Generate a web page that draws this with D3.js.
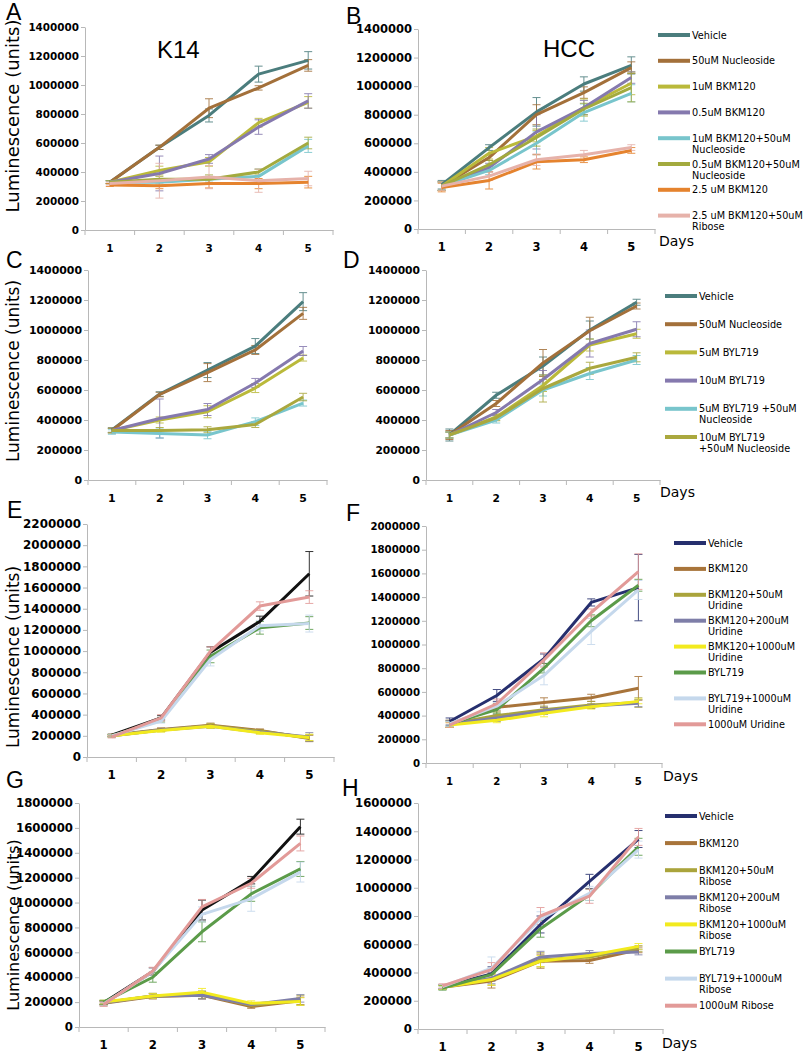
<!DOCTYPE html>
<html><head><meta charset="utf-8">
<script src="https://cdn.jsdelivr.net/npm/d3@7/dist/d3.min.js"></script>
<style>body{margin:0;background:#fff}svg{display:block}</style>
</head><body>
<svg id="chart" width="805" height="1053"></svg>
<script>
// ---------------- DATA ----------------
const days = ["1", "2", "3", "4", "5"];

const ticks1400 = [0, 200000, 400000, 600000, 800000, 1000000, 1200000, 1400000];
const ticks2200 = [0, 200000, 400000, 600000, 800000, 1000000, 1200000, 1400000, 1600000, 1800000, 2000000, 2200000];
const ticks2000 = [0, 200000, 400000, 600000, 800000, 1000000, 1200000, 1400000, 1600000, 1800000, 2000000];
const ticks1800 = [0, 200000, 400000, 600000, 800000, 1000000, 1200000, 1400000, 1600000, 1800000];
const ticks1600 = [0, 200000, 400000, 600000, 800000, 1000000, 1200000, 1400000, 1600000];

const legendBKM = [["Vehicle"], ["50uM Nucleoside"], ["1uM BKM120"], ["0.5uM BKM120"],
  ["1uM BKM120+50uM", "Nucleoside"], ["0.5uM BKM120+50uM", "Nucleoside"], ["2.5 uM BKM120"],
  ["2.5 uM BKM120+50uM", "Ribose"]];
const legendBYL = [["Vehicle"], ["50uM Nucleoside"], ["5uM BYL719"], ["10uM BYL719"],
  ["5uM BYL719 +50uM", "Nucleoside"], ["10uM BYL719", "+50uM Nucleoside"]];
const legendUridine = [["Vehicle"], ["BKM120"], ["BKM120+50uM", "Uridine"], ["BKM120+200uM", "Uridine"],
  ["BMK120+1000uM", "Uridine"], ["BYL719"], ["BYL719+1000uM", "Uridine"], ["1000uM Uridine"]];
const legendRibose = [["Vehicle"], ["BKM120"], ["BKM120+50uM", "Ribose"], ["BKM120+200uM", "Ribose"],
  ["BKM120+1000uM", "Ribose"], ["BYL719"], ["BYL719+1000uM", "Ribose"], ["1000uM Ribose"]];

// Panel A (K14, BKM120) – series in legendBKM order
const valuesA = [
  [330000, 570000, 790000, 1075000, 1170000],
  [330000, 570000, 840000, 980000, 1135000],
  [330000, 410000, 470000, 740000, 880000],
  [330000, 390000, 490000, 710000, 890000],
  [330000, 330000, 350000, 370000, 580000],
  [330000, 350000, 350000, 400000, 600000],
  [310000, 305000, 320000, 320000, 330000],
  [320000, 340000, 365000, 340000, 355000]
];
const errorsA = [
  [10000, 15000, 45000, 55000, 60000],
  [10000, 15000, 65000, 15000, 40000],
  [10000, 30000, 30000, 30000, 40000],
  [10000, 120000, 30000, 50000, 50000],
  [10000, 20000, 20000, 50000, 45000],
  [10000, 20000, 30000, 20000, 40000],
  [10000, 20000, 30000, 35000, 40000],
  [10000, 120000, 80000, 80000, 50000]
];
// Panel B (HCC, BKM120)
const valuesB = [
  [310000, 570000, 820000, 1015000, 1145000],
  [300000, 500000, 800000, 955000, 1130000],
  [300000, 530000, 650000, 850000, 1020000],
  [300000, 430000, 680000, 850000, 1060000],
  [300000, 410000, 600000, 815000, 950000],
  [300000, 450000, 640000, 840000, 990000],
  [290000, 340000, 470000, 485000, 550000],
  [300000, 370000, 485000, 520000, 570000]
];
const errorsB = [
  [30000, 20000, 100000, 50000, 60000],
  [30000, 20000, 70000, 40000, 40000],
  [30000, 40000, 40000, 60000, 80000],
  [30000, 30000, 120000, 50000, 40000],
  [30000, 30000, 80000, 60000, 60000],
  [30000, 30000, 60000, 40000, 100000],
  [30000, 60000, 50000, 20000, 20000],
  [30000, 30000, 40000, 30000, 20000]
];
// Panel C (K14, BYL719) – series in legendBYL order
const valuesC = [
  [333000, 573000, 733000, 893000, 1189000],
  [330000, 570000, 716000, 867000, 1111000],
  [330000, 400000, 455000, 613000, 813000],
  [330000, 410000, 470000, 647000, 860000],
  [320000, 310000, 300000, 389000, 513000],
  [330000, 330000, 335000, 370000, 553000]
];
const errorsC = [
  [15000, 15000, 50000, 50000, 60000],
  [15000, 15000, 60000, 30000, 40000],
  [15000, 20000, 40000, 30000, 20000],
  [15000, 130000, 40000, 30000, 30000],
  [15000, 30000, 25000, 25000, 20000],
  [15000, 20000, 20000, 20000, 25000]
];
// Panel D (HCC, BYL719)
const valuesD = [
  [300000, 565000, 760000, 1000000, 1185000],
  [300000, 510000, 780000, 995000, 1160000],
  [300000, 420000, 630000, 900000, 975000],
  [300000, 450000, 670000, 910000, 1005000],
  [300000, 400000, 600000, 710000, 800000],
  [300000, 415000, 610000, 745000, 818000]
];
const errorsD = [
  [40000, 20000, 60000, 60000, 20000],
  [30000, 20000, 90000, 90000, 20000],
  [20000, 20000, 40000, 40000, 30000],
  [20000, 20000, 60000, 90000, 50000],
  [20000, 20000, 40000, 40000, 30000],
  [20000, 20000, 90000, 40000, 30000]
];
// Panel E (K14, uridine) – series in legendUridine order
const valuesE = [
  [205000, 370000, 990000, 1280000, 1730000],
  [205000, 260000, 300000, 250000, 175000],
  [200000, 255000, 295000, 245000, 180000],
  [200000, 255000, 290000, 235000, 190000],
  [200000, 250000, 290000, 230000, 185000],
  [200000, 350000, 950000, 1220000, 1265000],
  [200000, 340000, 920000, 1240000, 1260000],
  [190000, 370000, 1000000, 1425000, 1510000]
];
const errorsE = [
  [10000, 20000, 50000, 50000, 210000],
  [10000, 15000, 20000, 15000, 30000],
  [10000, 15000, 20000, 15000, 30000],
  [10000, 15000, 20000, 15000, 40000],
  [10000, 15000, 20000, 15000, 30000],
  [10000, 20000, 60000, 60000, 60000],
  [10000, 20000, 60000, 50000, 80000],
  [10000, 30000, 40000, 40000, 60000]
];
// Panel F (HCC, uridine)
const valuesF = [
  [350000, 570000, 880000, 1355000, 1480000],
  [330000, 470000, 510000, 550000, 630000],
  [330000, 400000, 450000, 490000, 510000],
  [330000, 380000, 440000, 480000, 505000],
  [320000, 360000, 420000, 475000, 520000],
  [330000, 450000, 800000, 1200000, 1500000],
  [330000, 480000, 740000, 1110000, 1460000],
  [320000, 500000, 870000, 1270000, 1615000]
];
const errorsF = [
  [30000, 50000, 40000, 30000, 280000],
  [30000, 30000, 40000, 30000, 100000],
  [30000, 30000, 30000, 30000, 40000],
  [30000, 30000, 30000, 20000, 30000],
  [20000, 20000, 30000, 20000, 20000],
  [20000, 30000, 40000, 50000, 50000],
  [20000, 30000, 80000, 110000, 80000],
  [20000, 40000, 60000, 30000, 150000]
];
// Panel G (K14, ribose) – series in legendRibose order
const valuesG = [
  [195000, 445000, 940000, 1180000, 1610000],
  [190000, 245000, 255000, 165000, 210000],
  [195000, 250000, 260000, 175000, 215000],
  [195000, 250000, 255000, 180000, 230000],
  [200000, 250000, 280000, 190000, 205000],
  [200000, 400000, 765000, 1070000, 1270000],
  [185000, 445000, 905000, 1030000, 1245000],
  [180000, 450000, 965000, 1155000, 1475000]
];
const errorsG = [
  [15000, 30000, 80000, 30000, 60000],
  [15000, 20000, 30000, 15000, 30000],
  [15000, 20000, 30000, 15000, 40000],
  [15000, 20000, 30000, 15000, 30000],
  [15000, 20000, 30000, 20000, 30000],
  [15000, 40000, 80000, 60000, 60000],
  [15000, 30000, 60000, 100000, 80000],
  [15000, 30000, 60000, 40000, 60000]
];
// Panel H (HCC, ribose)
const valuesH = [
  [300000, 390000, 740000, 1045000, 1345000],
  [295000, 340000, 480000, 485000, 560000],
  [295000, 350000, 490000, 510000, 570000],
  [300000, 360000, 510000, 535000, 545000],
  [295000, 350000, 480000, 520000, 585000],
  [290000, 385000, 710000, 950000, 1290000],
  [300000, 430000, 780000, 960000, 1270000],
  [305000, 420000, 800000, 940000, 1360000]
];
const errorsH = [
  [15000, 50000, 60000, 50000, 60000],
  [15000, 50000, 50000, 20000, 20000],
  [15000, 40000, 50000, 20000, 20000],
  [15000, 40000, 40000, 20000, 20000],
  [15000, 40000, 40000, 20000, 20000],
  [15000, 40000, 60000, 40000, 60000],
  [15000, 80000, 50000, 50000, 60000],
  [15000, 50000, 60000, 50000, 60000]
];

// ---------------- STYLE ----------------
const colBKM = ["#4b7d7d", "#a3703a", "#bab93a", "#8579ae", "#78c5cc", "#a3aa3e", "#e5832e", "#e6b2aa"];
const colBYL = ["#4b7d7d", "#a3703a", "#bab93a", "#8579ae", "#78c5cc", "#aaa83e"];
const colSugar = ["#262f6e", "#a8743a", "#aaa43c", "#7e7ea8", "#f2ea1e", "#5b9b49", "#c5d8ec", "#e29a98"];
const colSugarK14 = ["#111111"].concat(colSugar.slice(1));
const axisCol = "#b8b8b8";
const numFont = "'DejaVu Sans', sans-serif";
const titleFont = "'Liberation Sans', Arial, sans-serif";

const svg = d3.select("#chart");

function panel(p) {
  const x = d3.scaleBand().domain(days).range([p.x0, p.x1]);
  const y = d3.scaleLinear().domain([0, p.ticks[p.ticks.length - 1]]).range([p.yb, p.yt]);
  const g = svg.append("g");

  const ya = g.append("g").attr("transform", `translate(${p.x0},0)`)
    .call(d3.axisLeft(y).tickValues(p.ticks).tickSize(4).tickSizeOuter(0).tickPadding(2).tickFormat(d3.format("d")));
  ya.select(".domain").attr("stroke", axisCol);
  ya.selectAll(".tick line").attr("stroke", axisCol);
  ya.selectAll("text").attr("font-family", numFont).attr("font-weight", "bold")
    .attr("font-size", p.fs).attr("fill", "#000");

  const xa = g.append("g").attr("transform", `translate(0,${p.yb})`)
    .call(d3.axisBottom(x).tickSize(0).tickSizeOuter(0).tickPadding(21.5 - 0.71 * p.fs));
  xa.select(".domain").attr("stroke", axisCol);
  xa.selectAll("text").attr("font-family", numFont).attr("font-weight", "bold")
    .attr("font-size", p.fs).attr("fill", "#000");
  g.selectAll("line.bt").data(d3.range(days.length + 1)).join("line").attr("class", "bt")
    .attr("x1", i => p.x0 + i * x.step()).attr("x2", i => p.x0 + i * x.step())
    .attr("y1", p.yb).attr("y2", p.yb + 5).attr("stroke", axisCol);

  const cx = i => x(days[i]) + x.bandwidth() / 2;

  // error bars
  p.values.forEach((ser, s) => {
    const eg = g.append("g").attr("stroke", p.colors[s]).attr("stroke-width", 1).attr("opacity", 0.85);
    ser.forEach((v, i) => {
      const e = p.errors[s][i];
      const yl = y(v - e), yh = y(v + e);
      eg.append("line").attr("x1", cx(i)).attr("x2", cx(i)).attr("y1", yl).attr("y2", yh);
      eg.append("line").attr("x1", cx(i) - 4).attr("x2", cx(i) + 4).attr("y1", yl).attr("y2", yl);
      eg.append("line").attr("x1", cx(i) - 4).attr("x2", cx(i) + 4).attr("y1", yh).attr("y2", yh);
    });
  });

  const line = d3.line().x((d, i) => cx(i)).y(d => y(d));
  p.values.forEach((ser, s) => {
    g.append("path").attr("d", line(ser)).attr("fill", "none")
      .attr("stroke", p.colors[s]).attr("stroke-width", 3).attr("stroke-linejoin", "round");
  });

  // panel letter
  svg.append("text").attr("x", p.lx).attr("y", p.ly).text(p.letter)
    .attr("font-family", titleFont).attr("font-size", 23).attr("fill", "#000");

  if (p.ytitle) {
    svg.append("text").attr("transform", `translate(19,${p.ytitle.cy}) rotate(-90)`)
      .attr("text-anchor", "middle").attr("font-family", numFont).attr("font-size", p.ytitle.fs)
      .attr("fill", "#000").text("Luminescence (units)");
  }
  if (p.daysLabel) {
    svg.append("text").attr("x", p.daysLabel[0]).attr("y", p.daysLabel[1]).text("Days")
      .attr("font-family", numFont).attr("font-size", 14).attr("fill", "#000");
  }
}

function legend(labels, colors, lx, ty, dy) {
  const g = svg.append("g");
  labels.forEach((lines, i) => {
    const yy = ty + i * dy;
    g.append("line").attr("x1", lx).attr("x2", lx + 32).attr("y1", yy).attr("y2", yy)
      .attr("stroke", colors[i]).attr("stroke-width", 4);
    lines.forEach((t, k) => {
      g.append("text").attr("x", lx + 34).attr("y", yy + 3.5 + k * 11).text(t)
        .attr("font-family", numFont).attr("font-size", 9.7).attr("fill", "#000");
    });
  });
}

panel({letter: "A", lx: 6, ly: 20, x0: 85, x1: 333, yt: 27, yb: 230, ticks: ticks1400, fs: 10.4,
  values: valuesA, errors: errorsA, colors: colBKM, ytitle: {cy: 116, fs: 18}});
panel({letter: "B", lx: 346, ly: 24, x0: 418, x1: 655, yt: 29, yb: 229, ticks: ticks1400, fs: 11.5,
  values: valuesB, errors: errorsB, colors: colBKM, daysLabel: [659, 246]});
panel({letter: "C", lx: 6, ly: 268, x0: 88, x1: 327, yt: 270, yb: 480, ticks: ticks1400, fs: 10.9,
  values: valuesC, errors: errorsC, colors: colBYL, ytitle: {cy: 371, fs: 17}});
panel({letter: "D", lx: 343, ly: 268, x0: 426, x1: 660, yt: 270, yb: 480, ticks: ticks1400, fs: 10.7,
  values: valuesD, errors: errorsD, colors: colBYL, daysLabel: [660, 497]});
panel({letter: "E", lx: 7, ly: 518, x0: 87, x1: 334, yt: 524, yb: 757, ticks: ticks2200, fs: 11.9,
  values: valuesE, errors: errorsE, colors: colSugarK14, ytitle: {cy: 657, fs: 17}});
panel({letter: "F", lx: 346, ly: 521, x0: 426, x1: 662, yt: 526, yb: 763, ticks: ticks2000, fs: 10.2,
  values: valuesF, errors: errorsF, colors: colSugar, daysLabel: [663, 781]});
panel({letter: "G", lx: 6, ly: 788, x0: 79, x1: 325, yt: 803, yb: 1027, ticks: ticks1800, fs: 11.7,
  values: valuesG, errors: errorsG, colors: colSugarK14, ytitle: {cy: 925, fs: 16}});
panel({letter: "H", lx: 342, ly: 796, x0: 418, x1: 663, yt: 803, yb: 1029, ticks: ticks1600, fs: 11.7,
  values: valuesH, errors: errorsH, colors: colSugar, daysLabel: [662, 1048]});

// titles
svg.append("text").attr("x", 157).attr("y", 58).text("K14").attr("font-family", titleFont)
  .attr("font-size", 24).attr("fill", "#000");
svg.append("text").attr("x", 543).attr("y", 57).text("HCC").attr("font-family", titleFont)
  .attr("font-size", 24).attr("fill", "#000");

legend(legendBKM, colBKM, 658, 35, 25.8);
legend(legendBYL, colBYL, 665, 296, 28.2);
legend(legendUridine, colSugar, 674, 543, 25.9);
legend(legendRibose, colSugar, 665, 816, 27.1);
</script>
</body></html>
